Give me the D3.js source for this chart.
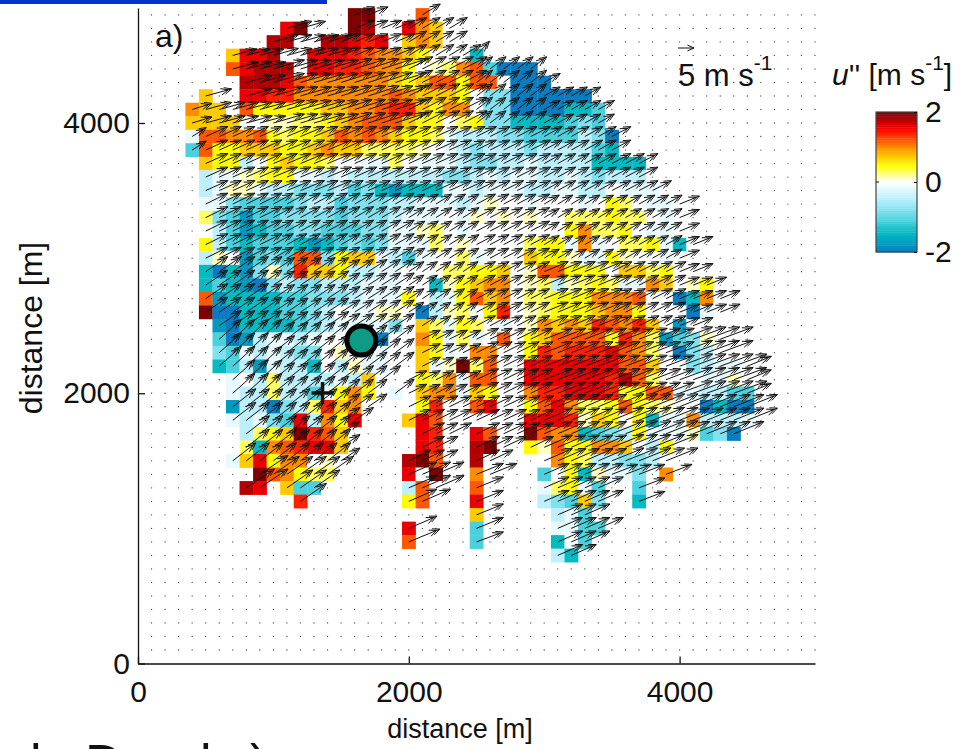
<!DOCTYPE html>
<html>
<head>
<meta charset="utf-8">
<script src="https://cdn.jsdelivr.net/npm/d3@7"></script>
<style>
    html, body { margin: 0; padding: 0; background: #fff; overflow: hidden; }
    text { font-family: "Liberation Sans", Arial, sans-serif; fill: #111; }
</style>
</head>
<body>
<div id="chart"></div>
<script>
// cell size of the retrieval grid in metres
const cellSize = 100;

// u'' levels, one character per cell ('.' = no data)
const levelCodes = ["g", "f", "e", "d", "c", "b", "a", "w", "1", "2", "3", "4", "5", "6", "7", "8", "9", "0"];
const levelValues = [-2, -1.75, -1.45, -1.1, -0.8, -0.45, -0.15, 0, 0.12, 0.3, 0.5, 0.72, 1, 1.2, 1.4, 1.6, 1.8, 2];

// first row is 4800 m, each next row is 100 m lower
const rowStart = [16, 11, 10, 7, 7, 8, 5, 4, 4, 4, 4, 5, 5, 5, 5, 5, 5, 5, 5, 5, 5, 5, 5, 6, 6, 6, 6, 7, 7, 7, 7, 8, 8, 7, 9, 8, 12, 25, 20, 20, 31];
const rowCells = [
    "00...6",
    "80...09ww854w",
    "99ww99878w454w",
    "4889ww888765543wwwe",
    "68999w88776553w1256dggg",
    "9998655555543466366wggg",
    "4..88775555555654443wccgggggg",
    "544w63333344556774355wccggggeed",
    "4444ww1122345666433w23cceeeedcd",
    "a665563233465654332abbbccddddbcg",
    "d63344433454422221wabcbbbcbbbbde",
    "433bw34332wwaa2waaabccbbabbbbeeee",
    "baa1233aababbbbbbbccbabaabbabcbbb",
    "ba11abbcccbdcefeeeaabaaabbaabbwaaa",
    "aacddddcbbdcccbbaaaba1wwawwwaw32waaw",
    "2cdfddccccdcccbaaawa1w1w1ww222322waw",
    "wbdfeddccdddccaa12wawwwwwww35223waaw",
    "3bdedddefedcdcaaa2w1wwww233a5aw223aew",
    "b1wfdcd66c344abdaww2awww4331aa31wwaw",
    "egefc1c7443bbaawww22334w166333w4423ww",
    "edefgcbccbbbaaawwe13455w12b1232aa54w13",
    "6feeeeddcccbaaa3wba3645w223335556wwge5w",
    "0ggeeeddcbwaa11wgb12w37w123334553wwwgaw",
    "fgeeeedcbaaaac.42a32waw1545476574wfw",
    "dgfbaabawwwbgw.53a2aw6w3466663752fdc1w",
    "cdababccw1aaaw.43aw55ww3767778652wgcbw",
    "edbfabbewb1aaw.4a1026ww8888888664wwcbaaw",
    "awb2bbbbab4w.w325a66ww8888887962wwwaa1w",
    "abb2bbda353.aw455a43ww57788873366aabbdd",
    "fbbgcb2745w..w37ww68ww36852236321wwgegg",
    "abacd8b538...486wwwwww8887143w3eaa5bbba",
    "b2340764.....87w.86ww0655edcb3aaa1dcg",
    "2e567884.....87..90w.31633554wb3",
    "a48355w1w....906..9w...w532bbccbw",
    "065322.....8w0..5w...dw3e1aac.5",
    "98.4dd......b6w..6....a23ad..d",
    "7.......36...8....bcd4c..e",
    "4.....bad",
    "8....d.....aadd",
    "6....d.....ewd",
    "be"
];

// wind in m/s read per block of 500 x 500 m, first row is 4500-4900 m, first column 0-400 m
const windU = [
    [7.5, 7.5, 7.8, 6.2, 5.6, 4, 4, 4, 4, 4],
    [6.2, 8.1, 9.7, 9.7, 7.5, 5, 5, 5, 5, 5],
    [4.4, 6.9, 7.5, 6.9, 6.9, 6.2, 5.6, 5.9, 5.9, 5.9],
    [6.9, 6.9, 6.2, 5.9, 5, 5.9, 4.7, 5, 6.2, 6.2],
    [6.9, 6.9, 6.6, 5.9, 4.7, 5.9, 7.5, 6.2, 6.2, 6.2],
    [6.9, 6.9, 6.6, 5.9, 5.6, 6.9, 8.8, 8.8, 10.3, 7.5],
    [7.2, 7.2, 7.2, 5.9, 6.9, 7.2, 8.8, 10, 9.4, 9.4],
    [8.8, 8.8, 8.1, 8.1, 8.8, 8.4, 7.8, 8.1, 8.1, 8.1],
    [9.7, 9.7, 9.7, 9.7, 9.7, 8.4, 7.8, 7.8, 7.8, 7.8]
];
const windV = [
    [2, 2, 2.2, 2.5, 3.4, 4.4, 3.1, 3.1, 3.1, 3.1],
    [1.9, 2.2, 2.8, 3.1, 3.8, 3.8, 2.8, 2.8, 2.8, 2.8],
    [2.8, 3.1, 3.1, 3.1, 3.1, 3.1, 3.1, 3.1, 3.1, 3.1],
    [3.4, 3.4, 3.4, 3.4, 3.1, 3.1, 2.8, 2.8, 2.5, 2.5],
    [4.7, 4.7, 4.4, 3.8, 3.1, 3.1, 3.1, 3.1, 2.5, 2.5],
    [6.2, 6.2, 5.3, 4.4, 2.8, 3.4, 3.4, 3.4, 3.8, 3.1],
    [5.6, 5.6, 5.6, 4, 3.4, 3.4, 3.8, 4, 3.8, 3.8],
    [5.9, 5.9, 5.6, 5.6, 3.8, 3.4, 3.4, 3.1, 3.1, 3.1],
    [4, 4, 4, 4, 4, 3.1, 3.4, 3.4, 3.4, 3.4]
];

const xTicks = [0, 2000, 4000];
const yTicks = [0, 2000, 4000];
const colorTicks = [-2, 0, 2];

// colour bar stops
const colorStops = [-2, -1.48, -1, -0.52, 0, 0.48, 1, 1.52, 2];
const colorRange = ["#0a7cc0", "#00b8c0", "#5fd8e4", "#b4eefb", "#ffffff", "#ffff00", "#ff8c00", "#ff0000", "#7f0000"];

const siteCircle = [1650, 2390];
const sitePlus = [1363, 2002];
const refSpeed = 5;

const width = 963, height = 749;

const svg = d3.select("#chart").append("svg")
    .attr("width", width)
    .attr("height", height)
    .style("display", "block");

const x = d3.scaleLinear().domain([0, 5000]).range([138, 815]);
const y = d3.scaleLinear().domain([0, 4000]).range([663.5, 123]);
const color = d3.scaleLinear().domain(colorStops).range(colorRange);
const arrowScale = d3.scaleLinear().domain([0, refSpeed]).range([0, 16]);
const cellPx = x(cellSize) - x(0);
const levelOf = d3.scaleOrdinal().domain(levelCodes).range(levelValues);

// top bar left over from the slide
svg.append("rect").attr("x", 0).attr("y", 0).attr("width", 327).attr("height", 4).attr("fill", "#0033cc");

// flatten the rows to cells
const cells = [];
rowCells.forEach((row, k) => {
    row.split("").forEach((code, n) => {
        if (code === ".") return;
        cells.push({ dist: (rowStart[k] + n) * cellSize, alt: (48 - k) * cellSize, value: levelOf(code) });
    });
});

// background dots on every grid node
const gridX = d3.range(1, 51).map(d => d * cellSize);
const gridY = d3.range(1, 49).map(d => d * cellSize);
svg.append("g").selectAll("circle")
    .data(d3.cross(gridX, gridY))
    .enter().append("circle")
    .attr("cx", d => x(d[0]))
    .attr("cy", d => y(d[1]))
    .attr("r", 0.65)
    .attr("fill", "#444");

svg.append("g").selectAll("rect")
    .data(cells)
    .enter().append("rect")
    .attr("x", d => x(d.dist) - cellPx / 2)
    .attr("y", d => y(d.alt) - cellPx / 2)
    .attr("width", cellPx + 0.3)
    .attr("height", cellPx + 0.3)
    .attr("fill", d => color(d.value));

// arrow with the double head of the original quiver
function arrowPath(x0, y0, dx, dy, heads) {
    const len = Math.sqrt(dx * dx + dy * dy);
    const a = Math.atan2(dy, dx);
    let p = `M${x0},${y0}L${x0 + dx},${y0 + dy}`;
    for (let h = 0; h < heads; h++) {
        const tipX = x0 + dx - h * 3.5 * Math.cos(a);
        const tipY = y0 + dy - h * 3.5 * Math.sin(a);
        const barb = Math.min(8, len * 0.45);
        p += `M${tipX - barb * Math.cos(a - 0.42)},${tipY - barb * Math.sin(a - 0.42)}L${tipX},${tipY}`;
        p += `L${tipX - barb * Math.cos(a + 0.42)},${tipY - barb * Math.sin(a + 0.42)}`;
    }
    return p;
}

function block(table, d) {
    const r = Math.min(table.length - 1, Math.max(0, 9 - Math.floor(d.alt / 500)));
    return table[r][Math.floor(d.dist / 500)];
}

svg.append("g").selectAll("path")
    .data(cells)
    .enter().append("path")
    .attr("d", d => arrowPath(x(d.dist), y(d.alt), arrowScale(block(windU, d)), -arrowScale(block(windV, d)), 2))
    .attr("fill", "none")
    .attr("stroke", "#111")
    .attr("stroke-width", 1);

// axes
const xAxis = d3.axisBottom(x).tickValues(xTicks).tickFormat(d => d).tickSizeInner(-7).tickSizeOuter(0).tickPadding(17);
const yAxis = d3.axisLeft(d3.scaleLinear().domain([0, y.invert(8)]).range([663.5, 8])).tickValues(yTicks).tickFormat(d => d).tickSizeInner(-7).tickSizeOuter(0).tickPadding(8);

[svg.append("g").attr("transform", "translate(0,663.5)").call(xAxis),
 svg.append("g").attr("transform", "translate(138,0)").call(yAxis)].forEach(g => {
    g.selectAll("path, line").attr("stroke", "#111").attr("stroke-width", 1.3);
    g.selectAll("text").style("font-size", "30px").attr("fill", "#111");
});

svg.append("text").attr("x", 460).attr("y", 738).attr("text-anchor", "middle").style("font-size", "27px").text("distance [m]");
svg.append("text").attr("transform", "translate(42,328) rotate(-90)").attr("text-anchor", "middle").style("font-size", "32px").text("distance [m]");
svg.append("text").attr("x", 155).attr("y", 47).style("font-size", "32px").text("a)");

// site markers
svg.append("circle")
    .attr("cx", x(siteCircle[0])).attr("cy", y(siteCircle[1])).attr("r", 14.5)
    .attr("fill", "#0d9b85").attr("stroke", "#000").attr("stroke-width", 5);
svg.append("path")
    .attr("d", `M${x(sitePlus[0]) - 11},${y(sitePlus[1])}h22M${x(sitePlus[0])},${y(sitePlus[1]) - 11}v22`)
    .attr("stroke", "#111").attr("stroke-width", 3.5).attr("fill", "none");

// reference arrow
svg.append("path")
    .attr("d", arrowPath(678, 48, arrowScale(refSpeed), 0, 1))
    .attr("fill", "none").attr("stroke", "#111").attr("stroke-width", 1);
const refLabel = svg.append("text").attr("x", 678).attr("y", 86).style("font-size", "31px");
refLabel.append("tspan").text("5 m s");
refLabel.append("tspan").attr("dy", -16).style("font-size", "21px").text("-1");

// colour bar
const barY = d3.scaleLinear().domain([-2, 2]).range([252, 112]);
const barLevels = d3.range(64).map(d => -2 + (d + 0.5) * 4 / 64);
svg.append("g").selectAll("rect")
    .data(barLevels)
    .enter().append("rect")
    .attr("x", 876)
    .attr("width", 41)
    .attr("y", d => barY(d + 2 / 64))
    .attr("height", barY(0) - barY(4 / 64) + 0.4)
    .attr("fill", d => color(d));
svg.append("rect").attr("x", 876).attr("y", 112).attr("width", 41).attr("height", 140)
    .attr("fill", "none").attr("stroke", "#444").attr("stroke-width", 1.2);
const barAxis = svg.append("g").attr("transform", "translate(917,0)")
    .call(d3.axisRight(barY).tickValues(colorTicks).tickFormat(d => d).tickSizeInner(-3).tickSizeOuter(0).tickPadding(8));
barAxis.select("path").remove();
barAxis.selectAll("line").attr("stroke", "#111");
barAxis.selectAll("text").style("font-size", "30px").attr("fill", "#111");
svg.append("line").attr("x1", 876).attr("x2", 879).attr("y1", barY(0)).attr("y2", barY(0)).attr("stroke", "#111");

const barTitle = svg.append("text").attr("x", 832).attr("y", 85).style("font-size", "30px");
barTitle.append("tspan").style("font-style", "italic").text("u");
barTitle.append("tspan").text("'' [m s");
barTitle.append("tspan").attr("dy", -15).style("font-size", "21px").text("-1");
barTitle.append("tspan").attr("dy", 15).text("]");

// caption cut off by the bottom edge of the slide
const captionLetters = ["l", "D", "l", ")"];
const captionX = [30, 85, 200, 250];
svg.append("g").selectAll("text")
    .data(captionLetters)
    .enter().append("text")
    .attr("x", (d, i) => captionX[i])
    .attr("y", 781)
    .style("font-size", "52px")
    .text(d => d);
</script>
</body>
</html>
